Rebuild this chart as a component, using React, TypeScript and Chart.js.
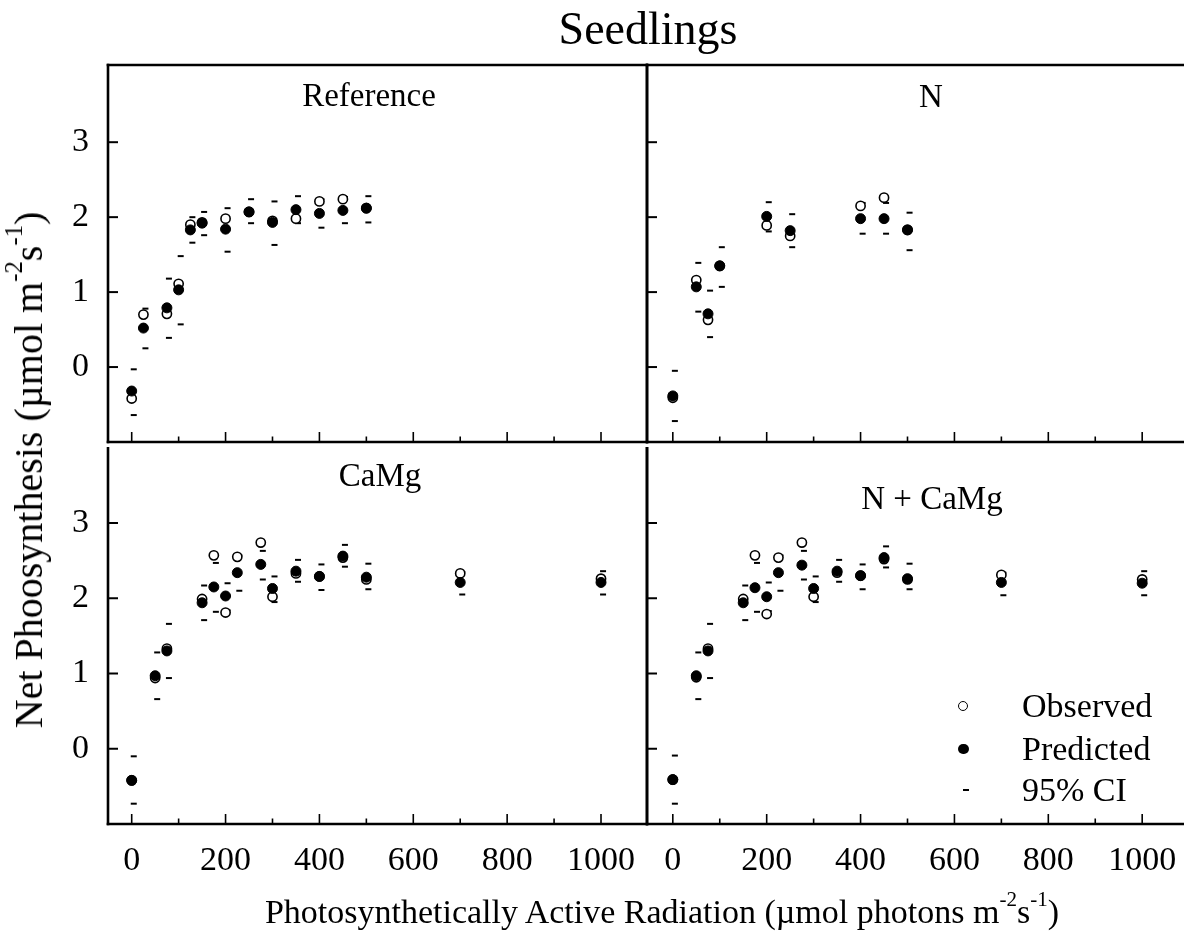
import React, { useEffect, useRef } from "react";
import { Chart, registerables } from "chart.js";

Chart.register(...registerables);

// ---------------- Data ----------------
const refX = [0, 25, 75, 100, 125, 150, 200, 250, 300, 350, 400, 450, 500];
const refObs = [-0.42, 0.7, 0.71, 1.11, 1.9, 1.93, 1.98, 2.07, 1.95, 1.98, 2.21, 2.24, 2.12];
const refPred = [-0.32, 0.52, 0.79, 1.03, 1.83, 1.92, 1.84, 2.07, 1.93, 2.1, 2.05, 2.09, 2.12];
const refUpper = [-0.03, 0.78, 1.18, 1.48, 2.0, 2.07, 2.12, 2.24, 2.21, 2.28, 2.24, 2.27, 2.28];
const refLower = [-0.64, 0.25, 0.39, 0.57, 1.66, 1.76, 1.54, 1.92, 1.63, 1.92, 1.86, 1.92, 1.93];

const nX = [0, 50, 75, 100, 200, 250, 400, 450, 500];
const nObs = [-0.41, 1.16, 0.63, 1.35, 1.89, 1.75, 2.15, 2.26, 1.83];
const nPred = [-0.385, 1.07, 0.71, 1.35, 2.01, 1.82, 1.98, 1.98, 1.83];
const nUpper = [-0.05, 1.39, 1.02, 1.6, 2.2, 2.04, 2.19, 2.19, 2.06];
const nLower = [-0.72, 0.74, 0.4, 1.07, 1.81, 1.6, 1.78, 1.78, 1.56];

const cX = [0, 50, 75, 150, 175, 200, 225, 275, 300, 350, 400, 450, 500, 700, 1000];
const cObs = [-0.42, 0.94, 1.33, 1.99, 2.57, 1.81, 2.55, 2.74, 2.02, 2.33, 2.29, 2.54, 2.25, 2.33, 2.26];
const cPred = [-0.42, 0.97, 1.3, 1.94, 2.15, 2.03, 2.34, 2.45, 2.13, 2.36, 2.29, 2.56, 2.28, 2.21, 2.21];
const cUpper = [-0.1, 1.28, 1.66, 2.17, 2.47, 2.2, 2.57, 2.63, 2.29, 2.51, 2.45, 2.71, 2.46, 2.35, 2.36];
const cLower = [-0.73, 0.66, 0.94, 1.71, 1.82, 1.84, 2.1, 2.25, 1.95, 2.22, 2.11, 2.42, 2.12, 2.05, 2.05];

const ncX = [0, 50, 75, 150, 175, 200, 225, 275, 300, 350, 400, 450, 500, 700, 1000];
const ncObs = [-0.41, 0.95, 1.33, 1.99, 2.57, 1.79, 2.54, 2.74, 2.02, 2.34, 2.3, 2.52, 2.25, 2.31, 2.25];
const ncPred = [-0.41, 0.97, 1.3, 1.94, 2.14, 2.02, 2.34, 2.44, 2.13, 2.36, 2.3, 2.54, 2.26, 2.21, 2.2];
const ncUpper = [-0.09, 1.28, 1.66, 2.17, 2.47, 2.21, 2.57, 2.63, 2.29, 2.51, 2.45, 2.69, 2.46, 2.34, 2.36];
const ncLower = [-0.73, 0.66, 0.94, 1.71, 1.82, 1.83, 2.1, 2.25, 1.95, 2.22, 2.12, 2.41, 2.12, 2.04, 2.04];

const xTickLabels = [0, 200, 400, 600, 800, 1000];
const xMinorTicks = [0, 100, 200, 300, 400, 500, 600, 700, 800, 900, 1000, 1100];
const yTickLabels = [0, 1, 2, 3];

// ---------------- Layout ----------------
const CW = 1200;
const CH = 936;
const SERIF = '"Liberation Serif", "Times New Roman", Times, serif';

type Area = { left: number; top: number; right: number; bottom: number };
type Sides = { left: boolean; top: boolean; right: boolean; bottom: boolean };

interface Panel {
  xs: number[];
  obs: number[];
  pred: number[];
  upper: number[];
  lower: number[];
  area: Area;
  xMin: number;
  xMax: number;
  yMin: number;
  yMax: number;
  showY: boolean;
  showX: boolean;
  sides: Sides;
}

const panels: Panel[] = [
  {
    xs: refX, obs: refObs, pred: refPred, upper: refUpper, lower: refLower,
    area: { left: 108, top: 65, right: 647, bottom: 442 },
    xMin: -50.5, xMax: 1098, yMin: -1, yMax: 4.03, showY: true, showX: false,
    sides: { left: true, top: true, right: true, bottom: true },
  },
  {
    xs: nX, obs: nObs, pred: nPred, upper: nUpper, lower: nLower,
    area: { left: 647, top: 65, right: 1191, bottom: 442 },
    xMin: -55, xMax: 1104, yMin: -1, yMax: 4.03, showY: false, showX: false,
    sides: { left: true, top: true, right: true, bottom: true },
  },
  {
    xs: cX, obs: cObs, pred: cPred, upper: cUpper, lower: cLower,
    area: { left: 108, top: 447, right: 647, bottom: 824 },
    xMin: -50.5, xMax: 1098, yMin: -1, yMax: 4.01, showY: true, showX: true,
    sides: { left: true, top: false, right: true, bottom: true },
  },
  {
    xs: ncX, obs: ncObs, pred: ncPred, upper: ncUpper, lower: ncLower,
    area: { left: 647, top: 447, right: 1191, bottom: 824 },
    xMin: -55, xMax: 1104, yMin: -1, yMax: 4.01, showY: false, showX: true,
    sides: { left: true, top: false, right: true, bottom: true },
  },
];

function makeDash(): HTMLCanvasElement {
  const c = document.createElement("canvas");
  c.width = 12;
  c.height = 4;
  const g = c.getContext("2d")!;
  g.fillStyle = "#000";
  g.fillRect(5, 1, 6, 2);
  return c;
}

function PanelChart({ p }: { p: Panel }) {
  const ref = useRef<HTMLCanvasElement | null>(null);
  useEffect(() => {
    if (!ref.current) return;
    const dash = makeDash();
    const yW = p.showY ? 60 : 0;
    const xH = p.showX ? 60 : 0;
    const frame = {
      id: "frameTicks",
      beforeDatasetsDraw(chart: any) {
        const ctx = chart.ctx;
        const a = chart.chartArea;
        const xs = chart.scales.x;
        const ys = chart.scales.y;
        ctx.save();
        ctx.strokeStyle = "#000";
        ctx.lineCap = "butt";
        ctx.lineWidth = 1.6;
        for (const v of xMinorTicks) {
          if (v < p.xMin || v > p.xMax) continue;
          const px = xs.getPixelForValue(v);
          const len = v % 200 === 0 ? 10 : 5.5;
          ctx.beginPath();
          ctx.moveTo(px, a.bottom);
          ctx.lineTo(px, a.bottom - len);
          ctx.stroke();
        }
        ctx.lineWidth = 2;
        for (const v of yTickLabels) {
          const py = ys.getPixelForValue(v);
          ctx.beginPath();
          ctx.moveTo(a.left, py);
          ctx.lineTo(a.left + 10, py);
          ctx.stroke();
        }
        ctx.lineWidth = 2.6;
        const ln = (x1: number, y1: number, x2: number, y2: number) => {
          ctx.beginPath();
          ctx.moveTo(x1, y1);
          ctx.lineTo(x2, y2);
          ctx.stroke();
        };
        const h = 1.3;
        if (p.sides.left) ln(a.left, a.top - (p.sides.top ? h : 0), a.left, a.bottom + h);
        if (p.sides.right) ln(a.right, a.top - (p.sides.top ? h : 0), a.right, a.bottom + h);
        if (p.sides.top) ln(a.left - h, a.top, a.right + h, a.top);
        if (p.sides.bottom) ln(a.left - h, a.bottom, a.right + h, a.bottom);
        ctx.restore();
      },
    };
    const pts = (ys: number[]) => p.xs.map((x, i) => ({ x, y: ys[i] }));
    const chart = new Chart(ref.current, {
      type: "scatter",
      data: {
        datasets: [
          {
            label: "Predicted",
            data: pts(p.pred),
            pointStyle: "circle",
            pointRadius: 5,
            pointBackgroundColor: "#000",
            pointBorderColor: "#000",
            pointBorderWidth: 1,
          },
          {
            label: "Observed",
            data: pts(p.obs),
            pointStyle: "circle",
            pointRadius: 4.6,
            pointBackgroundColor: "#fff",
            pointBorderColor: "#000",
            pointBorderWidth: 1.6,
          },
          {
            label: "95% CI upper",
            data: pts(p.upper),
            pointStyle: dash as any,
            pointRadius: 3,
          },
          {
            label: "95% CI lower",
            data: pts(p.lower),
            pointStyle: dash as any,
            pointRadius: 3,
          },
        ],
      },
      options: {
        animation: false,
        responsive: false,
        events: [],
        layout: {
          padding: {
            left: p.area.left - yW,
            right: CW - p.area.right,
            top: p.area.top,
            bottom: CH - p.area.bottom - xH,
          },
        },
        plugins: {
          legend: { display: false },
          tooltip: { enabled: false },
          title: { display: false },
        },
        scales: {
          x: {
            type: "linear",
            position: "bottom",
            min: p.xMin,
            max: p.xMax,
            grid: { display: false, drawTicks: false },
            border: { display: false },
            ticks: {
              display: p.showX,
              color: "#000",
              font: { family: SERIF, size: 34 },
              padding: 17,
              maxRotation: 0,
              autoSkip: false,
              callback: (v: any) => String(v),
            },
            afterBuildTicks: (s: any) => {
              s.ticks = xTickLabels.map((v) => ({ value: v }));
            },
            afterFit: (s: any) => {
              s.height = xH;
            },
          },
          y: {
            type: "linear",
            position: "left",
            min: p.yMin,
            max: p.yMax,
            grid: { display: false, drawTicks: false },
            border: { display: false },
            ticks: {
              display: p.showY,
              color: "#000",
              font: { family: SERIF, size: 34 },
              padding: 19,
              autoSkip: false,
              callback: (v: any) => String(v),
            },
            afterBuildTicks: (s: any) => {
              s.ticks = yTickLabels.map((v) => ({ value: v }));
            },
            afterFit: (s: any) => {
              s.width = yW;
            },
          },
        },
      } as any,
      plugins: [frame],
    });
    return () => chart.destroy();
  }, [p]);
  return (
    <canvas
      ref={ref}
      width={CW}
      height={CH}
      style={{ position: "absolute", left: 0, top: 0, width: CW, height: CH }}
    />
  );
}

const baseText: React.CSSProperties = {
  position: "absolute",
  fontFamily: SERIF,
  color: "#000",
  lineHeight: 1,
  whiteSpace: "nowrap",
  transform: "translate(-50%, -50%)",
};

const supStyle: React.CSSProperties = {
  fontSize: "0.62em",
  position: "relative",
  top: "-0.8em",
};

export default function App() {
  return (
    <div
      style={{
        position: "absolute",
        left: 0,
        top: 0,
        width: 1184,
        height: 936,
        overflow: "hidden",
        background: "#fff",
      }}
    >
      {panels.map((p, i) => (
        <PanelChart key={i} p={p} />
      ))}
      <div style={{ ...baseText, left: 648, top: 28.5, fontSize: 46 }}>Seedlings</div>
      <div style={{ ...baseText, left: 369, top: 95, fontSize: 33 }}>Reference</div>
      <div style={{ ...baseText, left: 931, top: 96, fontSize: 33 }}>N</div>
      <div style={{ ...baseText, left: 380, top: 475, fontSize: 33 }}>CaMg</div>
      <div style={{ ...baseText, left: 932, top: 498, fontSize: 33 }}>N + CaMg</div>
      <div style={{ ...baseText, left: 662, top: 912, fontSize: 34 }}>
        Photosynthetically Active Radiation (µmol photons m<span style={supStyle}>-2</span>s
        <span style={supStyle}>-1</span>)
      </div>
      <div
        style={{
          ...baseText,
          left: 29,
          top: 470,
          fontSize: 40,
          transform: "translate(-50%, -50%) rotate(-90deg)",
        }}
      >
        Net Phoosynthesis (µmol m<span style={supStyle}>-2</span>s<span style={supStyle}>-1</span>)
      </div>
      {/* legend */}
      <div
        style={{
          position: "absolute",
          left: 958,
          top: 701,
          width: 10,
          height: 10,
          border: "1.3px solid #000",
          borderRadius: "50%",
          boxSizing: "border-box",
        }}
      />
      <div
        style={{
          position: "absolute",
          left: 958,
          top: 743.5,
          width: 10.5,
          height: 10.5,
          background: "#000",
          borderRadius: "50%",
        }}
      />
      <div
        style={{
          position: "absolute",
          left: 963,
          top: 788.5,
          width: 6,
          height: 2.5,
          background: "#000",
        }}
      />
      <div style={{ ...baseText, transform: "translate(0, -50%)", left: 1022, top: 706, fontSize: 34 }}>Observed</div>
      <div style={{ ...baseText, transform: "translate(0, -50%)", left: 1022, top: 748.5, fontSize: 34 }}>Predicted</div>
      <div style={{ ...baseText, transform: "translate(0, -50%)", left: 1022, top: 790, fontSize: 34 }}>95% CI</div>
    </div>
  );
}
